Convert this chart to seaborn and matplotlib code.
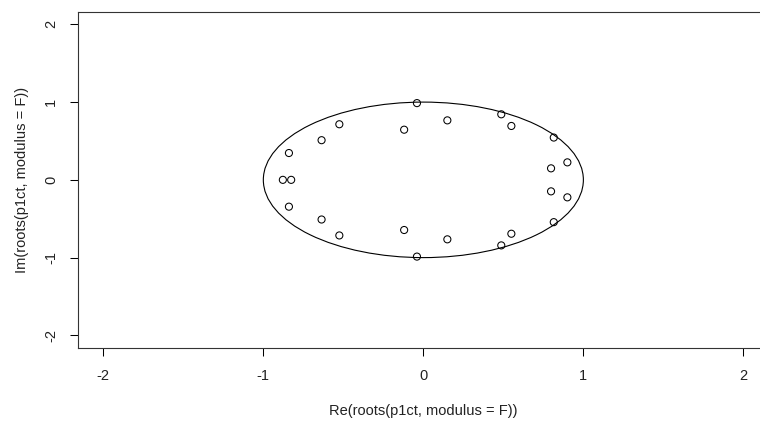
import matplotlib
matplotlib.use("Agg")
import matplotlib.pyplot as plt
import matplotlib.patches as mpatches
import seaborn as sns
import pandas as pd

re_vals = [-0.04, -0.04, -0.525, -0.525, -0.12, -0.12, -0.636, -0.636,
           -0.84, -0.84, -0.878, -0.826, 0.15, 0.15, 0.487, 0.487,
           0.55, 0.55, 0.815, 0.815, 0.90, 0.90, 0.798, 0.798]
im_vals = [0.987, -0.987, 0.715, -0.715, 0.645, -0.645, 0.51, -0.51,
           0.345, -0.345, 0.0, 0.0, 0.765, -0.765, 0.843, -0.843,
           0.693, -0.693, 0.544, -0.544, 0.225, -0.225, 0.148, -0.148]
x_ticks = [-2, -1, 0, 1, 2]
y_ticks = [-2, -1, 0, 1, 2]
x_label = "Re(roots(p1ct, modulus = F))"
y_label = "Im(roots(p1ct, modulus = F))"

df = pd.DataFrame({"re": re_vals, "im": im_vals})

sns.set_style("white")
plt.rcParams["font.family"] = ["Liberation Sans", "DejaVu Sans"]

W, H = 760, 421
fig = plt.figure(figsize=(W / 100, H / 100), dpi=100)
left, right, top, bottom = 77.7, 769.0, 11.9, 347.8
ax = fig.add_axes([left / W, 1 - bottom / H, (right - left) / W, (bottom - top) / H])

sns.scatterplot(data=df, x="re", y="im", ax=ax, marker="o", s=26,
                facecolor="none", edgecolor="black", linewidth=0.75, legend=False)

circ = mpatches.Circle((0, 0), 1, fill=False, edgecolor="black", linewidth=0.8)
ax.add_patch(circ)

ax.set_xlim(-2.16, 2.16)
ax.set_ylim(-2.16, 2.16)
ax.set_xticks(x_ticks)
ax.set_yticks(y_ticks)
ax.set_xticklabels([str(t) for t in x_ticks])
ax.set_yticklabels([str(t) for t in y_ticks], rotation=90, va="center")

ax.tick_params(axis="both", direction="out", length=5.6, width=0.75, color="black",
               labelsize=10.5, labelcolor="#222222", bottom=True, left=True)
ax.tick_params(axis="x", pad=10)
ax.tick_params(axis="y", pad=8.5)

for s in ax.spines.values():
    s.set_color("#333333")
    s.set_linewidth(0.8)

ax.set_xlabel(x_label, fontsize=10.5, color="#222222", labelpad=14.5)
ax.set_ylabel(y_label, fontsize=10.5, color="#222222", labelpad=11)

fig.savefig("out.png", dpi=100)
